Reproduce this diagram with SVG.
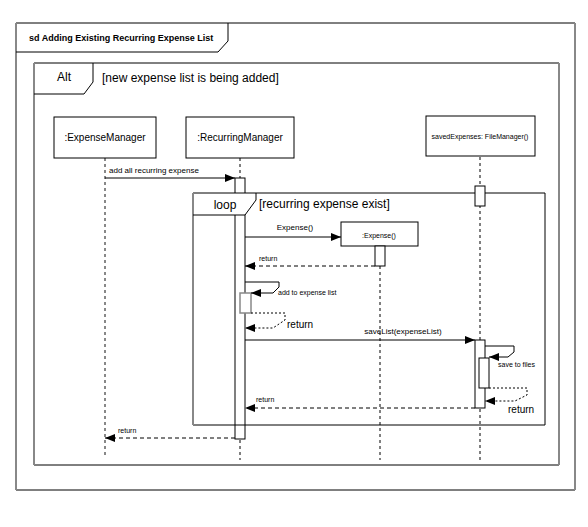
<svg xmlns="http://www.w3.org/2000/svg" width="588" height="527" viewBox="0 0 588 527">
  <style>
    text { font-family: "Liberation Sans", Arial, sans-serif; fill: #000; }
    .h { stroke: #000; stroke-width: 1; fill: none; }
    .v { stroke: #888; stroke-width: 2; fill: none; }
    .box { fill: #fff; stroke: #000; stroke-width: 1; }
    .act { fill: #fff; stroke: #000; stroke-width: 1; }
    .life { stroke: #000; stroke-width: 1; stroke-dasharray: 3 3; fill: none; }
    .lifeg { stroke: #888; stroke-width: 2; stroke-dasharray: 3 3; fill: none; }
    .msg { stroke: #000; stroke-width: 1; fill: none; marker-end: url(#tip); }
    .ret { stroke: #000; stroke-width: 1; stroke-dasharray: 4 3; fill: none; marker-end: url(#tip); }
    .dot { stroke: #000; stroke-width: 1; stroke-dasharray: 2 2; fill: none; marker-end: url(#tip); }
    .lbl { font-size: 8px; }
    .small { font-size: 7px; }
    .big { font-size: 12px; }
  </style>
  <defs>
    <marker id="tip" viewBox="0 0 10 10" refX="10" refY="5" markerWidth="10" markerHeight="10" markerUnits="userSpaceOnUse" orient="auto">
      <path d="M0,1 L10,5 L0,9 Z" fill="#000"/>
    </marker>
  </defs>

  <rect width="588" height="527" fill="#fff"/>

  <!-- sd frame -->
  <g id="frame-sd">
    <line class="h" x1="16" y1="23" x2="575" y2="23"/>
    <line class="h" x1="16" y1="490" x2="575" y2="490"/>
    <line class="v" x1="16" y1="23" x2="16" y2="490"/>
    <line class="v" x1="575" y1="23" x2="575" y2="490"/>
    <path class="h" d="M16,52 L218,52 L228,41 L228,23"/>
    <text x="29" y="41" font-size="9" font-weight="bold">sd  Adding Existing Recurring Expense List</text>
  </g>

  <!-- alt fragment -->
  <g id="frame-alt">
    <line class="h" x1="34" y1="63" x2="559" y2="63"/>
    <line class="h" x1="34" y1="465" x2="559" y2="465"/>
    <line class="v" x1="34" y1="63" x2="34" y2="465"/>
    <line class="v" x1="559" y1="63" x2="559" y2="465"/>
    <path class="h" d="M34,94 L84,94 L93,82 L93,63"/>
    <text class="big" x="64" y="81" text-anchor="middle">Alt</text>
    <text class="big" x="102" y="82">[new expense list is being added]</text>
  </g>

  <!-- lifelines -->
  <g id="lifelines">
    <line class="lifeg" x1="105" y1="158" x2="105" y2="458"/>
    <line class="life" x1="240" y1="158" x2="240" y2="460"/>
    <line class="life" x1="480" y1="157" x2="480" y2="462"/>
    <line class="life" x1="380" y1="266" x2="380" y2="460"/>
  </g>

  <g id="expense-manager">
    <rect class="box" x="54" y="117" width="102" height="41"/>
    <text x="105" y="141" font-size="10" text-anchor="middle">:ExpenseManager</text>
  </g>

  <g id="recurring-manager">
    <rect class="box" x="186" y="117" width="108" height="41"/>
    <text x="240" y="141" font-size="10" text-anchor="middle">:RecurringManager</text>
    <rect class="act" x="235" y="178" width="10" height="261"/>
  </g>

  <!-- loop fragment, drawn over the manager's activation bar -->
  <g id="frame-loop">
    <path d="M193,215 L245,215 L256,200 L256,193 L193,193 Z" fill="#fff"/>
    <line class="h" x1="193" y1="193" x2="545" y2="193"/>
    <line class="h" x1="193" y1="425" x2="545" y2="425"/>
    <line class="v" x1="193" y1="193" x2="193" y2="425"/>
    <line class="h" x1="545" y1="193" x2="545" y2="425"/>
    <path class="h" d="M193,215 L245,215 L256,200 L256,193"/>
    <text class="big" x="225" y="209" text-anchor="middle">loop</text>
    <text class="big" x="259" y="208">[recurring expense exist]</text>
  </g>

  <g id="saved-expenses">
    <rect class="box" x="426" y="116" width="109" height="40"/>
    <text class="small" x="480" y="139" text-anchor="middle">savedExpenses: FileManager()</text>
    <rect class="act" x="475" y="186" width="10" height="20"/>
    <rect class="act" x="475" y="340" width="10" height="68"/>
    <rect class="act" x="479" y="358" width="10" height="30"/>
  </g>

  <g id="expense">
    <rect class="box" x="341" y="222" width="77" height="24"/>
    <text class="small" x="379" y="238" text-anchor="middle">:Expense()</text>
    <rect class="act" x="375" y="246" width="10" height="20"/>
  </g>

  <g id="self-activation">
    <rect x="240" y="293" width="11" height="20" fill="#fff" stroke="#888" stroke-width="1.5"/>
  </g>

  <!-- messages -->
  <g id="connectors">
    <line class="msg" x1="105" y1="178" x2="235" y2="178"/>
    <text class="lbl" x="109" y="173">add all recurring expense</text>

    <line class="msg" x1="245" y1="237" x2="341" y2="237"/>
    <text class="lbl" x="295" y="230" text-anchor="middle">Expense()</text>

    <line class="ret" x1="375" y1="266" x2="245" y2="266"/>
    <text class="small" x="259" y="261">return</text>

    <path class="msg" d="M245,282 L279,282 L279,287 L273,293 L251,293"/>
    <text class="small" x="278" y="295">add to expense list</text>

    <path class="dot" d="M251,313 L285,313 L285,320 L273,328 L245,328"/>
    <text x="287" y="328" font-size="10">return</text>

    <line class="msg" x1="245" y1="340" x2="475" y2="340"/>
    <text class="lbl" x="403" y="334" text-anchor="middle">saveList(expenseList)</text>

    <path class="msg" d="M485,346 L514,346 L514,352 L508,357 L489,357"/>
    <text class="small" x="498" y="367">save to files</text>

    <path class="dot" d="M489,388 L527,388 L527,395 L515,401 L485,401"/>
    <text x="508" y="413" font-size="10">return</text>

    <line class="ret" x1="475" y1="408" x2="245" y2="408"/>
    <text class="small" x="256" y="402">return</text>

    <line class="ret" x1="235" y1="438" x2="105" y2="438"/>
    <text class="small" x="118" y="433">return</text>
  </g>
</svg>
